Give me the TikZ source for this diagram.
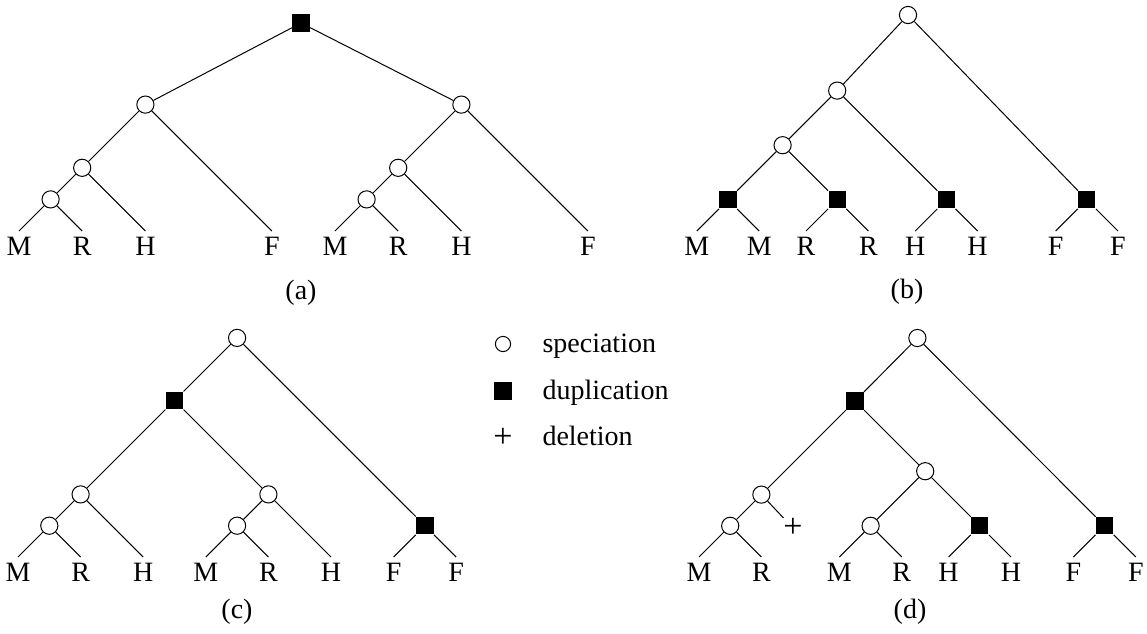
\documentclass[tikz,border=0pt]{standalone}
\usepackage{fontspec}
\setmainfont{Liberation Serif}
\begin{document}
\begin{tikzpicture}[x=0.5pt,y=-0.5pt,line width=0.5pt,
  every node/.style={font=\fontsize{14pt}{17pt}\selectfont},
  spec/.style={circle,draw,fill=white,minimum size=8.6pt,inner sep=0pt},
  lspec/.style={circle,draw,fill=white,minimum size=7.6pt,inner sep=0pt},
  dup/.style={rectangle,fill=black,minimum size=8.6pt,inner sep=0pt},
  leaf/.style={anchor=north,inner sep=0pt,outer xsep=0pt,outer ysep=3pt},
  del/.style={inner sep=0pt,font=\fontsize{17pt}{20pt}\selectfont},
  panel/.style={inner sep=0pt},
  legtext/.style={anchor=base west,inner sep=0pt}]
\useasboundingbox (0,0) rectangle (1147,633);

% ---------- tree (a) ----------
\node[dup]  (aroot) at (301,23) {};
\node[spec] (aL1) at (145.4,104.6) {};
\node[spec] (aL2) at (82.2,167.8) {};
\node[spec] (aL3) at (50.6,199.4) {};
\node[spec] (aR1) at (461.4,104.6) {};
\node[spec] (aR2) at (398.2,167.8) {};
\node[spec] (aR3) at (366.6,199.4) {};
\node[leaf] (a1) at (19,231) {M};
\node[leaf] (a2) at (82.2,231) {R};
\node[leaf] (a3) at (145.4,231) {H};
\node[leaf] (a4) at (271.8,231) {F};
\node[leaf] (a5) at (335,231) {M};
\node[leaf] (a6) at (398.2,231) {R};
\node[leaf] (a7) at (461.4,231) {H};
\node[leaf] (a8) at (587.8,231) {F};
\node[panel] (la) at (301,293) {(a)};
\draw (aroot) -- (aL1); \draw (aroot) -- (aR1);
\draw (aL1) -- (aL2); \draw (aL1) -- (a4.north);
\draw (aL2) -- (aL3); \draw (aL2) -- (a3.north);
\draw (aL3) -- (a1.north); \draw (aL3) -- (a2.north);
\draw (aR1) -- (aR2); \draw (aR1) -- (a8.north);
\draw (aR2) -- (aR3); \draw (aR2) -- (a7.north);
\draw (aR3) -- (a5.north); \draw (aR3) -- (a6.north);

% ---------- tree (b) ----------
\node[spec] (broot) at (908,15) {};
\node[spec] (bc2) at (837.2,90.6) {};
\node[spec] (bc3) at (782.6,145.2) {};
\node[dup] (bs1) at (728,199.8) {};
\node[dup] (bs2) at (837.2,199.8) {};
\node[dup] (bs3) at (946.4,199.8) {};
\node[dup] (bs4) at (1086.8,199.8) {};
\node[leaf] (b1) at (696.8,231) {M};
\node[leaf] (b2) at (759.2,231) {M};
\node[leaf] (b3) at (806,231) {R};
\node[leaf] (b4) at (868.4,231) {R};
\node[leaf] (b5) at (915.2,231) {H};
\node[leaf] (b6) at (977.6,231) {H};
\node[leaf] (b7) at (1055.6,231) {F};
\node[leaf] (b8) at (1118,231) {F};
\node[panel] (lb) at (907,292) {(b)};
\draw (broot) -- (bc2); \draw (broot) -- (bs4);
\draw (bc2) -- (bc3); \draw (bc2) -- (bs3);
\draw (bc3) -- (bs1); \draw (bc3) -- (bs2);
\draw (bs1) -- (b1.north); \draw (bs1) -- (b2.north);
\draw (bs2) -- (b3.north); \draw (bs2) -- (b4.north);
\draw (bs3) -- (b5.north); \draw (bs3) -- (b6.north);
\draw (bs4) -- (b7.north); \draw (bs4) -- (b8.north);

% ---------- tree (c) ----------
\node[spec] (croot) at (237.1,337.9) {};
\node[dup]  (cs) at (174.5,400.5) {};
\node[spec] (cL) at (80.6,494.4) {};
\node[spec] (cR) at (268.4,494.4) {};
\node[spec] (cc1) at (49.3,525.7) {};
\node[spec] (cc2) at (237.1,525.7) {};
\node[dup]  (csF) at (424.9,525.7) {};
\node[leaf] (c1) at (18,557) {M};
\node[leaf] (c2) at (80.6,557) {R};
\node[leaf] (c3) at (143.2,557) {H};
\node[leaf] (c4) at (205.8,557) {M};
\node[leaf] (c5) at (268.4,557) {R};
\node[leaf] (c6) at (331,557) {H};
\node[leaf] (c7) at (393.6,557) {F};
\node[leaf] (c8) at (456.2,557) {F};
\node[panel] (lc) at (237,612) {(c)};
\draw (croot) -- (cs); \draw (croot) -- (csF);
\draw (cs) -- (cL); \draw (cs) -- (cR);
\draw (cL) -- (cc1); \draw (cL) -- (c3.north);
\draw (cc1) -- (c1.north); \draw (cc1) -- (c2.north);
\draw (cR) -- (cc2); \draw (cR) -- (c6.north);
\draw (cc2) -- (c4.north); \draw (cc2) -- (c5.north);
\draw (csF) -- (c7.north); \draw (csF) -- (c8.north);

% ---------- tree (d) ----------
\node[spec] (droot) at (917.4,338) {};
\node[dup]  (ds) at (855,401) {};
\node[spec] (dc2) at (761.4,494.6) {};
\node[spec] (dc1) at (730.2,525.8) {};
\node[del]  (ddel) at (793,528) {+};
\node[spec] (dc4) at (925.2,471.2) {};
\node[spec] (dc3) at (870.6,525.8) {};
\node[dup]  (dsH) at (979.8,525.8) {};
\node[dup]  (dsF) at (1104.6,525.8) {};
\node[leaf] (d1) at (699,557) {M};
\node[leaf] (d2) at (761.4,557) {R};
\node[leaf] (d3) at (839.4,557) {M};
\node[leaf] (d4) at (901.8,557) {R};
\node[leaf] (d5) at (948.6,557) {H};
\node[leaf] (d6) at (1011,557) {H};
\node[leaf] (d7) at (1073.4,557) {F};
\node[leaf] (d8) at (1135.8,557) {F};
\node[panel] (ld) at (910,612) {(d)};
\draw (droot) -- (ds); \draw (droot) -- (dsF);
\draw (ds) -- (dc2); \draw (ds) -- (dc4);
\draw (dc2) -- (dc1); \draw (dc2) -- (ddel);
\draw (dc1) -- (d1.north); \draw (dc1) -- (d2.north);
\draw (dc4) -- (dc3); \draw (dc4) -- (dsH);
\draw (dc3) -- (d3.north); \draw (dc3) -- (d4.north);
\draw (dsH) -- (d5.north); \draw (dsH) -- (d6.north);
\draw (dsF) -- (d7.north); \draw (dsF) -- (d8.north);

% ---------- legend ----------
\node[lspec] (lsp) at (503,344) {};
\node[dup]   (ldup) at (503,391) {};
\node[del]   (ldel) at (503,438) {+};
\node[legtext] (tsp) at (542,352) {speciation};
\node[legtext] (tdup) at (542,399) {duplication};
\node[legtext] (tdel) at (542,445) {deletion};
\end{tikzpicture}
\end{document}
